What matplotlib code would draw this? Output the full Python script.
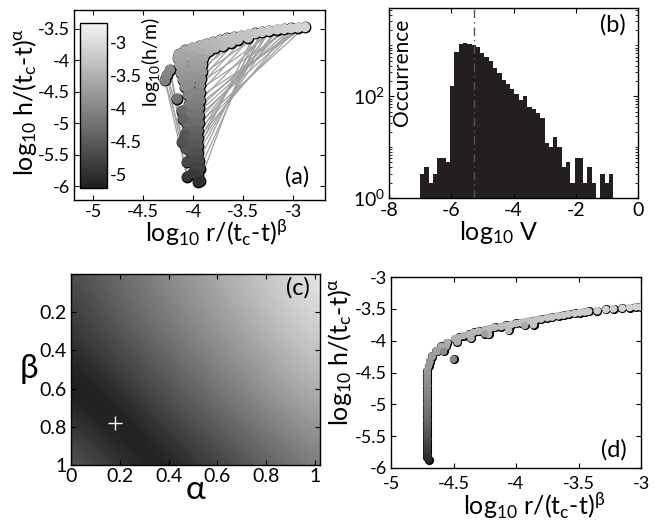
import numpy as np
import matplotlib
matplotlib.use('Agg')
import matplotlib.pyplot as plt
from matplotlib.colors import LinearSegmentedColormap
from matplotlib.ticker import FormatStrFormatter, NullFormatter, LogLocator

plt.rcParams['font.family'] = ['Lato', 'DejaVu Sans']
plt.rcParams['mathtext.fontset'] = 'custom'
plt.rcParams['mathtext.rm'] = 'Lato'
plt.rcParams['mathtext.it'] = 'Lato:italic'
plt.rcParams['mathtext.default'] = 'regular'
plt.rcParams['axes.unicode_minus'] = False
plt.rcParams['xtick.direction'] = 'in'
plt.rcParams['ytick.direction'] = 'in'
plt.rcParams['xtick.top'] = True
plt.rcParams['ytick.right'] = True
plt.rcParams['xtick.major.size'] = 3.5
plt.rcParams['ytick.major.size'] = 3.5
plt.rcParams['xtick.major.pad'] = 4
plt.rcParams['ytick.major.pad'] = 3
plt.rcParams['axes.linewidth'] = 1.0

# ---------- panel (a): trajectory points ----------
a_x = [-2.88, -2.95, -3.02, -3.09, -3.16, -3.24, -3.31, -3.38, -3.45, -3.52,
       -3.59, -3.66, -3.73, -3.80, -3.87, -3.94, -4.01, -4.08, -4.14,
       -3.45, -3.55, -3.65, -3.75, -3.85, -3.95, -4.05,
       -3.62, -3.70, -3.78, -3.84, -3.88, -4.15, -4.13, -4.12, -4.10, -4.08,
       -4.08, -3.98, -3.90, -4.10, -4.00, -3.91, -4.08, -3.99, -3.91,
       -4.06, -3.98, -3.92, -4.03, -3.93, -4.01, -3.93, -3.99, -3.93,
       -3.98, -3.94, -3.98, -3.94, -3.99, -3.94, -4.00, -3.95, -4.02, -3.95,
       -4.03, -3.95, -4.02, -3.95, -4.00, -3.94, -3.98, -3.93, -3.95, -3.93,
       -4.05, -4.04, -4.05, -4.06, -4.07, -4.07, -4.06,
       -4.23, -4.26, -4.28, -4.16, -4.11, -4.10, -4.08, -4.11, -4.06, -4.01, -3.95]
a_y = [-3.47, -3.48, -3.49, -3.50, -3.51, -3.53, -3.55, -3.57, -3.59, -3.61,
       -3.63, -3.65, -3.68, -3.71, -3.74, -3.77, -3.80, -3.84, -3.90,
       -3.64, -3.67, -3.71, -3.75, -3.80, -3.86, -3.93,
       -3.72, -3.77, -3.80, -3.85, -3.90, -3.97, -4.08, -4.20, -4.31, -4.42,
       -3.95, -3.95, -3.97, -4.05, -4.05, -4.07, -4.15, -4.15, -4.18,
       -4.25, -4.27, -4.30, -4.38, -4.40, -4.50, -4.52, -4.62, -4.64,
       -4.74, -4.76, -4.86, -4.88, -4.98, -5.00, -5.10, -5.12, -5.22, -5.24,
       -5.34, -5.36, -5.46, -5.48, -5.58, -5.60, -5.70, -5.72, -5.82, -5.92,
       -4.55, -4.70, -4.85, -5.00, -5.15, -5.40, -5.62,
       -4.15, -4.23, -4.32, -4.61, -4.80, -4.93, -5.18, -5.30, -5.85, -5.80, -5.93]
a_c = [-3.10, -3.10, -3.12, -3.13, -3.15, -3.17, -3.20, -3.22, -3.25, -3.28,
       -3.30, -3.33, -3.36, -3.40, -3.43, -3.47, -3.50, -3.55, -3.60,
       -3.28, -3.31, -3.35, -3.40, -3.45, -3.52, -3.60,
       -3.34, -3.38, -3.42, -3.47, -3.52, -3.62, -3.70, -3.77, -3.84, -3.90,
       -3.62, -3.62, -3.63, -3.68, -3.68, -3.70, -3.75, -3.75, -3.77,
       -3.82, -3.83, -3.85, -3.90, -3.92, -3.97, -3.99, -4.05, -4.06,
       -4.12, -4.13, -4.20, -4.21, -4.28, -4.30, -4.36, -4.38, -4.44, -4.46,
       -4.52, -4.54, -4.60, -4.62, -4.68, -4.70, -4.76, -4.78, -4.85, -4.95,
       -4.00, -4.10, -4.20, -4.30, -4.40, -4.55, -4.70,
       -3.95, -4.00, -4.05, -4.20, -4.30, -4.40, -4.55, -4.60, -4.90, -4.88, -5.00]

# segments joining consecutive records (x0, y0, x1, y1)
seg_x0 = [-3.91, -3.91, -3.92, -3.93, -3.93, -3.93, -3.94, -3.94, -3.94, -3.95,
          -3.95, -3.95, -3.95, -3.94, -3.93, -3.93, -3.91, -3.92, -3.92, -3.93,
          -3.93, -3.94, -3.94, -3.94, -3.95, -3.95, -3.95, -3.95, -3.91, -3.91,
          -4.26, -4.28, -4.23, -4.26, -4.16, -4.28, -4.11, -4.23]
seg_y0 = [-4.07, -4.18, -4.30, -4.40, -4.52, -4.64, -4.76, -4.88, -5.00, -5.12,
          -5.24, -5.36, -5.48, -5.60, -5.72, -5.92, -4.12, -4.24, -4.35, -4.46,
          -4.58, -4.70, -4.82, -4.94, -5.06, -5.18, -5.30, -5.42, -3.98, -4.02,
          -4.23, -4.32, -4.15, -4.23, -4.61, -4.32, -4.80, -4.15]
seg_x1 = [-3.66, -3.59, -3.52, -3.45, -3.38, -3.24, -3.09, -2.95, -2.88, -2.95,
          -3.02, -3.16, -3.24, -3.31, -3.31, -3.38, -3.45, -3.31, -3.16, -3.02,
          -2.88, -2.95, -3.02, -3.09, -3.16, -3.24, -3.31, -3.38, -3.73, -3.80,
          -3.95, -4.06, -4.01, -4.06, -3.95, -4.01, -4.06, -4.11]
seg_y1 = [-3.65, -3.63, -3.61, -3.59, -3.57, -3.53, -3.50, -3.48, -3.47, -3.48,
          -3.49, -3.51, -3.53, -3.55, -3.55, -3.57, -3.59, -3.55, -3.51, -3.49,
          -3.47, -3.48, -3.49, -3.50, -3.51, -3.53, -3.55, -3.57, -3.68, -3.71,
          -5.93, -5.85, -5.80, -5.85, -5.93, -5.80, -5.85, -5.30]

# ---------- panel (b): histogram of log10 V ----------
hist_counts = [3, 4, 2, 3, 6, 6, 5, 158, 750, 1070, 1130, 1070, 1000, 910, 720,
               600, 490, 360, 280, 212, 172, 139, 112, 83, 103, 61, 57, 47, 37, 12,
               10, 16, 10, 4, 5, 2, 6, 6, 2, 4, 2, 1, 3, 2, 3]
hist_start = -7.0
hist_width = 0.1378
v_mark = -5.27

# ---------- panel (c): misfit map over (alpha, beta) ----------
alpha_grid = [0.0, 0.1, 0.2, 0.3, 0.4, 0.5, 0.6, 0.7, 0.8, 0.9, 1.0]
beta_grid = [0.0, 0.1, 0.2, 0.3, 0.4, 0.5, 0.6, 0.7, 0.8, 0.9, 1.0]
misfit = [
    [0.30, 0.36, 0.42, 0.48, 0.54, 0.60, 0.66, 0.72, 0.78, 0.84, 0.90],
    [0.27, 0.33, 0.40, 0.46, 0.52, 0.58, 0.64, 0.70, 0.76, 0.82, 0.87],
    [0.24, 0.30, 0.37, 0.43, 0.49, 0.55, 0.61, 0.67, 0.73, 0.79, 0.84],
    [0.21, 0.27, 0.33, 0.40, 0.46, 0.52, 0.58, 0.64, 0.70, 0.76, 0.81],
    [0.17, 0.23, 0.29, 0.35, 0.42, 0.48, 0.54, 0.60, 0.66, 0.72, 0.77],
    [0.13, 0.18, 0.25, 0.31, 0.37, 0.44, 0.50, 0.56, 0.62, 0.68, 0.73],
    [0.12, 0.13, 0.20, 0.27, 0.33, 0.39, 0.46, 0.52, 0.58, 0.64, 0.69],
    [0.17, 0.11, 0.14, 0.22, 0.29, 0.35, 0.41, 0.47, 0.53, 0.59, 0.64],
    [0.23, 0.16, 0.11, 0.16, 0.24, 0.30, 0.36, 0.42, 0.48, 0.54, 0.59],
    [0.28, 0.22, 0.15, 0.12, 0.18, 0.25, 0.31, 0.37, 0.43, 0.49, 0.54],
    [0.33, 0.27, 0.21, 0.14, 0.13, 0.20, 0.26, 0.32, 0.38, 0.44, 0.49],
]
best_alpha = 0.18
best_beta = 0.78

# ---------- panel (d): rescaled points ----------
d_x = [-4.70, -4.71, -4.71, -4.71, -4.71, -4.71, -4.71, -4.71, -4.71, -4.71,
       -4.71, -4.71, -4.71, -4.71, -4.71, -4.71, -4.71, -4.71, -4.71, -4.71,
       -4.71, -4.71, -4.71, -4.71, -4.71, -4.71, -4.71, -4.71, -4.71,
       -4.70, -4.69, -4.67, -4.64, -4.60, -4.55, -4.49, -4.42, -4.34, -4.25,
       -4.17, -4.08, -4.00, -3.92, -3.84, -3.75, -3.66, -3.58, -3.49, -3.42,
       -3.35, -3.28, -3.22, -3.15, -3.09, -3.04, -3.00,
       -4.69, -4.67, -4.63, -4.56, -4.47, -4.36, -4.22, -4.06, -3.86,
       -4.46, -4.38, -4.30, -4.21, -4.12, -4.04, -3.96, -3.88, -3.80, -3.71,
       -3.62, -3.53, -3.45,
       -4.58, -4.50, -4.25, -3.93]
d_y = [-5.87, -5.82, -5.77, -5.72, -5.67, -5.62, -5.57, -5.52, -5.47, -5.42,
       -5.37, -5.32, -5.27, -5.22, -5.17, -5.12, -5.07, -5.02, -4.97, -4.92,
       -4.87, -4.82, -4.77, -4.72, -4.67, -4.62, -4.57, -4.52, -4.47,
       -4.40, -4.32, -4.24, -4.16, -4.09, -4.03, -3.97, -3.92, -3.87, -3.83,
       -3.79, -3.76, -3.73, -3.70, -3.67, -3.64, -3.61, -3.58, -3.56, -3.54,
       -3.53, -3.51, -3.50, -3.49, -3.48, -3.47, -3.47,
       -4.34, -4.25, -4.17, -4.09, -4.02, -3.96, -3.90, -3.84, -3.75,
       -3.95, -3.90, -3.85, -3.81, -3.78, -3.75, -3.72, -3.69, -3.66, -3.63,
       -3.60, -3.57, -3.55,
       -4.17, -4.29, -3.89, -3.76]
d_c = [-5.05, -5.00, -4.95, -4.90, -4.85, -4.80, -4.74, -4.68, -4.62, -4.56,
       -4.50, -4.45, -4.40, -4.35, -4.30, -4.26, -4.22, -4.18, -4.14, -4.10,
       -4.06, -4.02, -3.98, -3.95, -3.92, -3.89, -3.86, -3.83, -3.80,
       -3.76, -3.72, -3.68, -3.64, -3.60, -3.56, -3.52, -3.48, -3.44, -3.40,
       -3.37, -3.34, -3.31, -3.28, -3.26, -3.24, -3.22, -3.20, -3.18, -3.16,
       -3.15, -3.14, -3.13, -3.12, -3.11, -3.10, -3.10,
       -3.80, -3.72, -3.66, -3.60, -3.54, -3.48, -3.42, -3.36, -3.30,
       -3.50, -3.46, -3.42, -3.38, -3.35, -3.32, -3.30, -3.27, -3.25, -3.23,
       -3.21, -3.19, -3.17,
       -3.95, -4.00, -3.70, -3.55]

c_lo, c_hi = -5.2, -2.7
cmap = LinearSegmentedColormap.from_list('grey', [(0.12, 0.12, 0.12), (0.96, 0.96, 0.96)])

fig = plt.figure(figsize=(6.57, 5.21), dpi=100)
W, H = 657.0, 521.0


def px_axes(l, t, r, b):
    return fig.add_axes([l / W, 1 - b / H, (r - l) / W, (b - t) / H])


def outlined_scatter(ax, x, y, c, s):
    # edge pass then fill pass, so only the outer outline of the cloud shows
    ax.scatter(x, y, s=s, c='black', linewidths=1.1, edgecolors='black', zorder=3)
    sc = ax.scatter(x, y, s=s, c=c, cmap=cmap, vmin=c_lo, vmax=c_hi,
                    linewidths=0, zorder=4)
    return sc


lab = 18
tick = 13
xlab_a = 'log$_{10}$ r/(t$_c$-t)$^{\\beta}$'
ylab_a = 'log$_{10}$ h/(t$_c$-t)$^{\\alpha}$'

# ----- (a) -----
ax_a = px_axes(74, 10, 325, 200)
for i in range(len(seg_x0)):
    ax_a.plot([seg_x0[i], seg_x1[i]], [seg_y0[i], seg_y1[i]], color='#a0a0a0',
              lw=0.9, zorder=1)
sc_a = outlined_scatter(ax_a, a_x, a_y, a_c, 55)
ax_a.set_xlim(-5.19, -2.68)
ax_a.set_ylim(-6.22, -3.2)
ax_a.set_xticks([-5, -4.5, -4, -3.5, -3])
ax_a.set_yticks([-6, -5.5, -5, -4.5, -4, -3.5])
ax_a.xaxis.set_major_formatter(FormatStrFormatter('%g'))
ax_a.yaxis.set_major_formatter(FormatStrFormatter('%g'))
ax_a.tick_params(labelsize=tick)
ax_a.tick_params(axis='x', pad=3)
ax_a.text(-0.195, 0.516, ylab_a, transform=ax_a.transAxes,
          rotation=90, ha='center', va='center', fontsize=lab)
ax_a.text(0.568, -0.221, xlab_a, transform=ax_a.transAxes,
          ha='center', va='baseline', fontsize=lab)
ax_a.text(0.888, 0.12, '(a)', transform=ax_a.transAxes, ha='center', va='center',
          fontsize=17)

cax = px_axes(80, 23, 107, 188)
cb = fig.colorbar(sc_a, cax=cax)
cb.set_ticks([-5, -4.5, -4, -3.5, -3])
cb.ax.yaxis.set_major_formatter(FormatStrFormatter('%g'))
cb.ax.tick_params(labelsize=tick, length=0, pad=2)
cb.outline.set_linewidth(1.0)
fig.text(151 / W, 1 - 62 / H, 'log$_{10}$(h/m)', rotation=90, ha='center', va='center',
         fontsize=14)

# ----- (b) -----
ax_b = px_axes(389, 8, 638, 198)
lefts = [hist_start + i * hist_width for i in range(len(hist_counts))]
ax_b.bar(lefts, hist_counts, width=hist_width, align='edge', color='#231f20',
         linewidth=0)
ax_b.set_yscale('log')
ax_b.set_ylim(1, 5400)
ax_b.set_xlim(-8, 0)
ax_b.axvline(v_mark, color='#555555', lw=1.0, ls=(0, (6, 3, 1, 3)), zorder=3)
ax_b.set_xticks([-8, -6, -4, -2, 0])
ax_b.set_yticks([1, 100])
ax_b.set_yticklabels(['10$^0$', '10$^2$'])
ax_b.yaxis.set_minor_locator(LogLocator(base=10, subs=[2, 3, 4, 5, 6, 7, 8, 9, 10]))
ax_b.yaxis.set_minor_formatter(NullFormatter())
ax_b.tick_params(which='minor', length=2, direction='in')
ax_b.tick_params(labelsize=tick + 1)
ax_b.tick_params(axis='x', pad=3)
ax_b.text(0.052, 0.66, 'Occurrence', transform=ax_b.transAxes, rotation=90,
          ha='center', va='center', fontsize=15)
ax_b.text(0.44, -0.221, 'log$_{10}$ V', transform=ax_b.transAxes, ha='center',
          va='baseline', fontsize=lab)
ax_b.text(0.9, 0.91, '(b)', transform=ax_b.transAxes, ha='center', va='center',
          fontsize=17)

# ----- (c) -----
ax_c = px_axes(71, 274, 320, 465)
da = (alpha_grid[1] - alpha_grid[0]) / 2
db = (beta_grid[1] - beta_grid[0]) / 2
ax_c.imshow(np.array(misfit), cmap='gray', vmin=0, vmax=1, interpolation='bicubic',
            aspect='auto',
            extent=[alpha_grid[0] - da, alpha_grid[-1] + da, beta_grid[-1] + db, beta_grid[0] - db])
ax_c.plot(best_alpha, best_beta, '+', color='white', ms=10, mew=1.0)
ax_c.set_xlim(0, 1.02)
ax_c.set_ylim(1, 0)
ax_c.set_xticks([0, 0.2, 0.4, 0.6, 0.8, 1])
ax_c.set_yticks([0.2, 0.4, 0.6, 0.8, 1])
ax_c.xaxis.set_major_formatter(FormatStrFormatter('%g'))
ax_c.yaxis.set_major_formatter(FormatStrFormatter('%g'))
ax_c.tick_params(labelsize=tick + 1)
ax_c.tick_params(axis='x', pad=2)
ax_c.text(-0.17, 0.5, '$\\beta$', transform=ax_c.transAxes, ha='center', va='center',
          fontsize=24)
ax_c.text(0.5, -0.13, '$\\alpha$', transform=ax_c.transAxes, ha='center', va='center',
          fontsize=24)
ax_c.text(0.91, 0.93, '(c)', transform=ax_c.transAxes, ha='center', va='center',
          fontsize=17)

# ----- (d) -----
ax_d = px_axes(391, 277, 641, 468)
outlined_scatter(ax_d, d_x, d_y, d_c, 30)
ax_d.set_xlim(-5, -3)
ax_d.set_ylim(-6, -3)
ax_d.set_xticks([-5, -4.5, -4, -3.5, -3])
ax_d.set_yticks([-6, -5.5, -5, -4.5, -4, -3.5, -3])
ax_d.xaxis.set_major_formatter(FormatStrFormatter('%g'))
ax_d.yaxis.set_major_formatter(FormatStrFormatter('%g'))
ax_d.tick_params(labelsize=tick)
ax_d.tick_params(axis='x', pad=6)
ax_d.text(-0.204, 0.61, ylab_a, transform=ax_d.transAxes,
          rotation=90, ha='center', va='center', fontsize=lab)
ax_d.text(0.572, -0.246, xlab_a, transform=ax_d.transAxes,
          ha='center', va='baseline', fontsize=lab)
ax_d.text(0.89, 0.095, '(d)', transform=ax_d.transAxes, ha='center', va='center',
          fontsize=17)

fig.savefig('out.png', dpi=100)
